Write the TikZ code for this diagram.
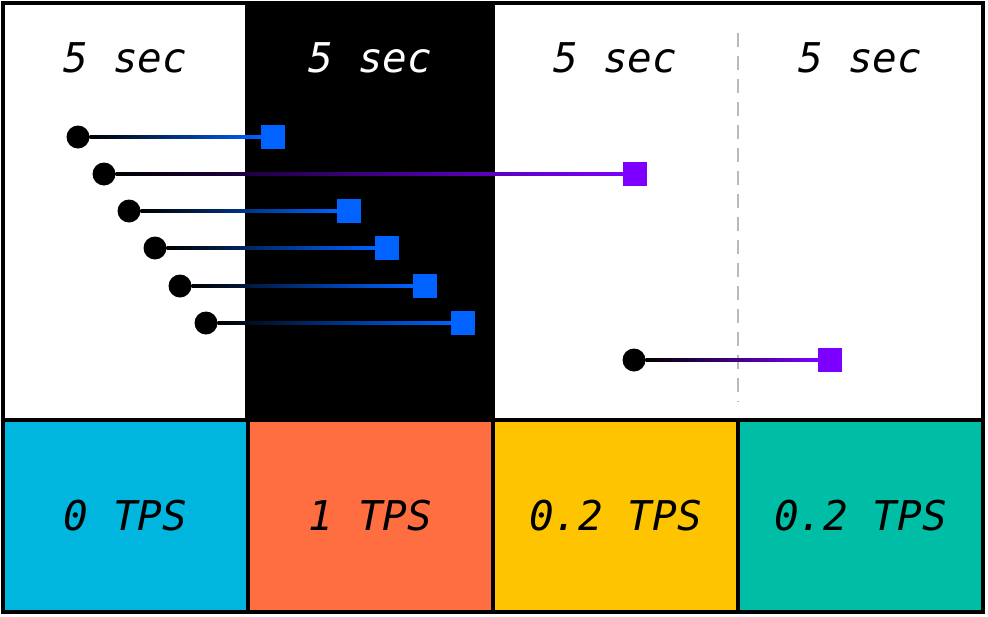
\documentclass[tikz,border=0pt]{standalone}
\usepackage{fontspec}
\newfontfamily\labelfont{DejaVu Sans Mono}
\definecolor{tpsblue}{RGB}{0,181,222}
\definecolor{tpsorange}{RGB}{255,110,64}
\definecolor{tpsyellow}{RGB}{255,196,0}
\definecolor{tpsteal}{RGB}{0,190,165}
\definecolor{txblue}{RGB}{0,98,255}
\definecolor{txpurple}{RGB}{123,0,255}

\begin{document}
\begin{tikzpicture}
  [x=1pt,y=-1pt,
   tps/.style={rectangle,draw=black,line width=4.5pt,outer sep=0,inner sep=0,
               minimum width=245pt,minimum height=192pt,
               font=\labelfont\itshape\fontsize{41}{48}\selectfont},
   period/.style={font=\labelfont\itshape\fontsize{41}{48}\selectfont},
   sent/.style={circle,fill=black,outer sep=0,inner sep=0,minimum size=23pt},
   done/.style={rectangle,fill=txblue,outer sep=0,inner sep=0,minimum size=24pt},
   late/.style={done,fill=txpurple},
   fastline/.style={left color=black,right color=txblue},
   lateline/.style={left color=black,right color=txpurple}]
  \useasboundingbox (0,0) rectangle (988,616);
  \fill[white] (3,3) rectangle (983,420);
  \fill[black] (245,3) rectangle (495,420);
  \coordinate (dashtop) at (738,33);
  \coordinate (dashbot) at (738,402);
  \draw[black!27,line width=2pt,dash pattern=on 14pt off 9pt] (dashtop) -- (dashbot);
  \node[period] (secA) at (125.5,57.5) {5 sec};
  \node[period,text=white] (secB) at (370.5,57.5) {5 sec};
  \node[period] (secC) at (615.5,57.5) {5 sec};
  \node[period] (secD) at (860.5,57.5) {5 sec};
  \node[sent] (sentA) at (78,137) {};
  \node[sent] (sentB) at (104,174) {};
  \node[sent] (sentC) at (129,211) {};
  \node[sent] (sentD) at (155,248) {};
  \node[sent] (sentE) at (180,286) {};
  \node[sent] (sentF) at (206,323) {};
  \node[sent] (sentG) at (634,360) {};
  \node[done] (doneA) at (273,137) {};
  \node[late] (doneB) at (635,174) {};
  \node[done] (doneC) at (349,211) {};
  \node[done] (doneD) at (387,248) {};
  \node[done] (doneE) at (425,286) {};
  \node[done] (doneF) at (463,323) {};
  \node[late] (doneG) at (830,360) {};
  \shade[fastline] ([yshift=-1.5pt]sentA.east) rectangle ([yshift=1.5pt]doneA.west);
  \shade[lateline] ([yshift=-1.5pt]sentB.east) rectangle ([yshift=1.5pt]doneB.west);
  \shade[fastline] ([yshift=-1.5pt]sentC.east) rectangle ([yshift=1.5pt]doneC.west);
  \shade[fastline] ([yshift=-1.5pt]sentD.east) rectangle ([yshift=1.5pt]doneD.west);
  \shade[fastline] ([yshift=-1.5pt]sentE.east) rectangle ([yshift=1.5pt]doneE.west);
  \shade[fastline] ([yshift=-1.5pt]sentF.east) rectangle ([yshift=1.5pt]doneF.west);
  \shade[lateline] ([yshift=-1.5pt]sentG.east) rectangle ([yshift=1.5pt]doneG.west);
  \node[tps,fill=tpsblue] (tpsA) at (125.5,516) {0 TPS};
  \node[tps,fill=tpsorange] (tpsB) at (370.5,516) {1 TPS};
  \node[tps,fill=tpsyellow] (tpsC) at (615.5,516) {0.2 TPS};
  \node[tps,fill=tpsteal] (tpsD) at (860.5,516) {0.2 TPS};
  \draw[line width=4.5pt] (3,3) rectangle (983,612);
\end{tikzpicture}
\end{document}
